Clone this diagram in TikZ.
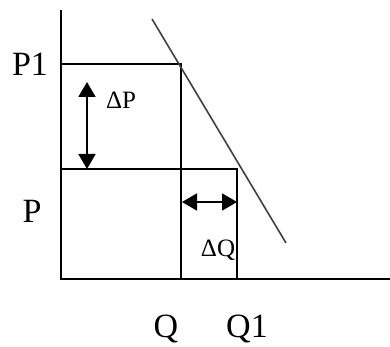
\documentclass[tikz,border=0pt]{standalone}
\usepackage{fontspec}
\setmainfont{Liberation Serif}
\usetikzlibrary{arrows.meta}
\tikzset{axis/.style={line width=1.8pt,draw=black},grid/.style={line width=1.8pt,draw=black},demand/.style={line width=1.6pt,draw=black!75},delta/.style={{Triangle[length=15pt,width=17pt]}-{Triangle[length=15pt,width=17pt]},line width=1.8pt},big/.style={font=\fontsize{34}{40}\selectfont,inner sep=0pt,anchor=base},small/.style={font=\fontsize{25}{30}\selectfont,inner sep=0pt,anchor=base}}

\begin{document}
\begin{tikzpicture}[x=1pt,y=-1pt]
      \useasboundingbox (0,0) rectangle (390,347);
      \coordinate (origin) at (61,279);
      \coordinate (ytop) at (61,10);
      \coordinate (xend) at (390,279);
      \coordinate (p1) at (61,64);\coordinate (p) at (61,169);
      \coordinate (q) at (181,279);\coordinate (q1) at (237,279);
      \coordinate (dtop) at (152,19);\coordinate (dbot) at (286,243);
      \draw[axis](ytop)--(origin)--(xend);
      \draw[grid](p1)-|(q);
      \draw[grid](p)-|(q1);
      \draw[demand](dtop)--(dbot);
      \coordinate (dpa) at (87,82);\coordinate (dpb) at (87,169);
      \draw[delta](dpa)--(dpb);
      \coordinate (dqa) at (182,202);\coordinate (dqb) at (237,202);
      \draw[delta](dqa)--(dqb);
      \node[big](lp1) at (30,76){P1};
      \node[big](lp) at (32,222){P};
      \node[big](lq) at (166,337){Q};
      \node[big](lq1) at (247,337){Q1};
      \node[small](ldp) at (121,109){ΔP};
      \node[small](ldq) at (218,256){ΔQ};
    \end{tikzpicture}
\end{document}
